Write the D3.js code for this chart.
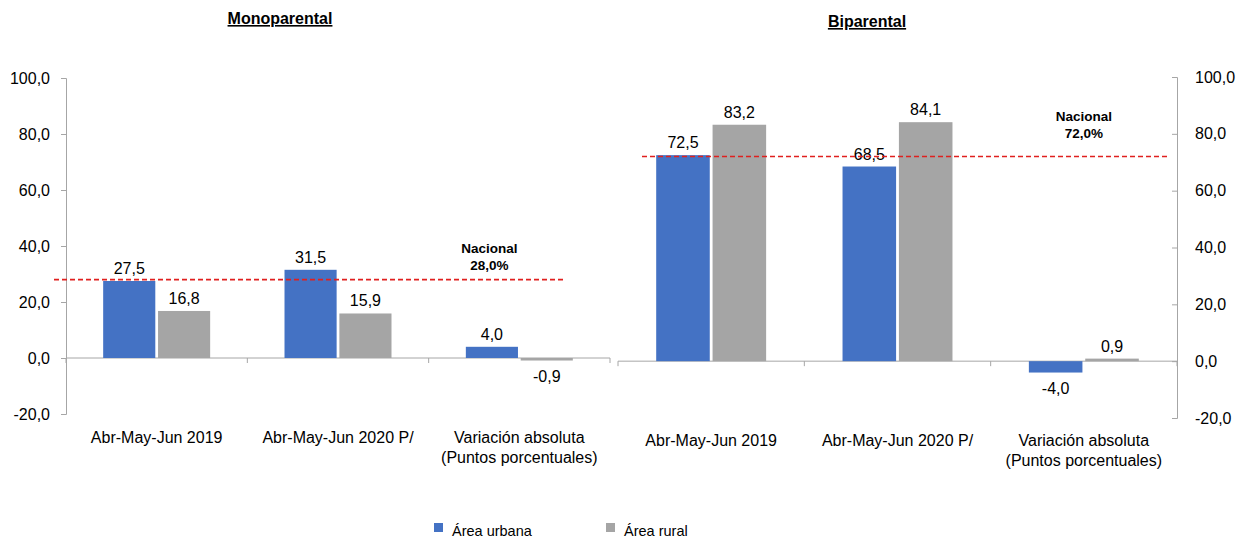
<!DOCTYPE html>
<html>
<head>
<meta charset="utf-8">
<script src="https://cdn.jsdelivr.net/npm/d3@7"></script>
<style>
  body { margin: 0; background: #fff; }
  svg { font-family: "Liberation Sans", Arial, sans-serif; }
  .tick text { font-size: 16px; fill: #000; }
</style>
</head>
<body>
<svg id="svg" width="1246" height="542"></svg>
<script>
// data
var categories = ["Abr-May-Jun 2019", "Abr-May-Jun 2020 P/", "Variación absoluta\n(Puntos porcentuales)"];
var series = ["Área urbana", "Área rural"];
var monoUrbana = [27.5, 31.5, 4.0];
var monoRural = [16.8, 15.9, -0.9];
var biUrbana = [72.5, 68.5, -4.0];
var biRural = [83.2, 84.1, 0.9];
var nacional = [28.0, 72.0];
var yTicks = [-20, 0, 20, 40, 60, 80, 100];

var colors = ["#4472C4", "#A5A5A5"];
var axisColor = "#A6A6A6";

var locale = d3.formatLocale({ decimal: ",", thousands: ".", grouping: [3], currency: ["", ""], minus: "-" });
var fmt = locale.format(".1f");

var svg = d3.select("#svg");

var panels = [
  {
    title: "Monoparental", titleX: 280, titleY: 24,
    urbana: monoUrbana, rural: monoRural, nacional: nacional[0],
    xRange: [66, 610], yRange: [414, 78], axisSide: "left",
    lineX: [54, 565], natDx: -30, natDy: -27, labelY: 443
  },
  {
    title: "Biparental", titleX: 867, titleY: 27,
    urbana: biUrbana, rural: biRural, nacional: nacional[1],
    xRange: [618, 1177], yRange: [418, 77], axisSide: "right",
    lineX: [642, 1168], natDx: 0, natDy: -36, labelY: 446
  }
];

panels.forEach(function (p) {
  var g = svg.append("g");

  var y = d3.scaleLinear().domain([-20, 100]).range(p.yRange);
  var x0 = d3.scaleBand().domain(categories).range(p.xRange)
    .paddingInner(0.41).paddingOuter(0.205);
  var x1 = d3.scaleBand().domain(series).range([0, x0.bandwidth()]).paddingInner(0.05);
  var step = x0.step();

  // y axis
  var yAxisX = p.axisSide === "left" ? p.xRange[0] : p.xRange[1];
  var axis = p.axisSide === "left"
    ? d3.axisLeft(y).tickSizeInner(5).tickSizeOuter(5).tickPadding(11)
    : d3.axisRight(y).tickSizeInner(-5).tickSizeOuter(-5).tickPadding(18);
  var ya = g.append("g")
    .attr("transform", `translate(${yAxisX},0)`)
    .call(axis.tickValues(yTicks).tickFormat(fmt));
  ya.selectAll("path, line").attr("stroke", axisColor);
  ya.selectAll("text").attr("font-family", "Liberation Sans, Arial, sans-serif");

  // baseline with category separators
  g.append("line")
    .attr("x1", p.xRange[0]).attr("x2", p.xRange[1])
    .attr("y1", y(0)).attr("y2", y(0))
    .attr("stroke", axisColor);
  var seps = d3.range(categories.length + 1).map(function (i) { return p.xRange[0] + i * step; });
  g.selectAll(".sep").data(seps).enter().append("line")
    .attr("x1", d => d).attr("x2", d => d)
    .attr("y1", y(0)).attr("y2", y(0) + 5)
    .attr("stroke", axisColor);

  // bars
  var rows = categories.map(function (c, i) {
    return [
      { cat: c, s: series[0], v: p.urbana[i] },
      { cat: c, s: series[1], v: p.rural[i] }
    ];
  });
  var grp = g.selectAll(".grp").data(rows).enter().append("g")
    .attr("transform", d => `translate(${x0(d[0].cat)},0)`);
  grp.selectAll("rect").data(d => d).enter().append("rect")
    .attr("x", d => x1(d.s))
    .attr("width", x1.bandwidth())
    .attr("y", d => y(Math.max(0, d.v)))
    .attr("height", d => Math.abs(y(d.v) - y(0)))
    .attr("fill", (d, i) => colors[i]);
  grp.selectAll("text").data(d => d).enter().append("text")
    .attr("x", d => x1(d.s) + x1.bandwidth() / 2)
    .attr("y", d => d.v >= 0 ? y(d.v) - 7 : y(d.v) + 21)
    .attr("text-anchor", "middle")
    .attr("font-size", 16)
    .text(d => fmt(d.v));

  // category labels
  var cl = g.selectAll(".cl").data(categories).enter().append("text")
    .attr("x", d => x0(d) + x0.bandwidth() / 2)
    .attr("y", p.labelY)
    .attr("text-anchor", "middle")
    .attr("font-size", 16);
  cl.each(function (d) {
    var t = d3.select(this);
    d.split("\n").forEach(function (line, i) {
      t.append("tspan").attr("x", x0(d) + x0.bandwidth() / 2).attr("dy", i ? 20 : 0).text(line);
    });
  });

  // national reference line
  g.append("line")
    .attr("x1", p.lineX[0]).attr("x2", p.lineX[1])
    .attr("y1", y(p.nacional)).attr("y2", y(p.nacional))
    .attr("stroke", "#E0201F")
    .attr("stroke-width", 1.6)
    .attr("stroke-dasharray", "5,3");
  var last = categories[categories.length - 1];
  var nx = x0(last) + x0.bandwidth() / 2 + p.natDx;
  var nt = g.append("text")
    .attr("text-anchor", "middle")
    .attr("font-size", 13.5)
    .attr("font-weight", "bold");
  nt.append("tspan").attr("x", nx).attr("y", y(p.nacional) + p.natDy).text("Nacional");
  nt.append("tspan").attr("x", nx).attr("dy", 17).text(fmt(p.nacional) + "%");

  // title
  g.append("text")
    .attr("x", p.titleX).attr("y", p.titleY)
    .attr("text-anchor", "middle")
    .attr("font-size", 16)
    .attr("font-weight", "bold")
    .attr("text-decoration", "underline")
    .text(p.title);
});

// legend
var legendX = [434, 606];
var lg = svg.selectAll(".lg").data(series).enter().append("g")
  .attr("transform", (d, i) => `translate(${legendX[i]},523)`);
lg.append("rect").attr("width", 9).attr("height", 9).attr("fill", (d, i) => colors[i]);
lg.append("text").attr("x", 18).attr("y", 13).attr("font-size", 14.5).text(d => d);
</script>
</body>
</html>
